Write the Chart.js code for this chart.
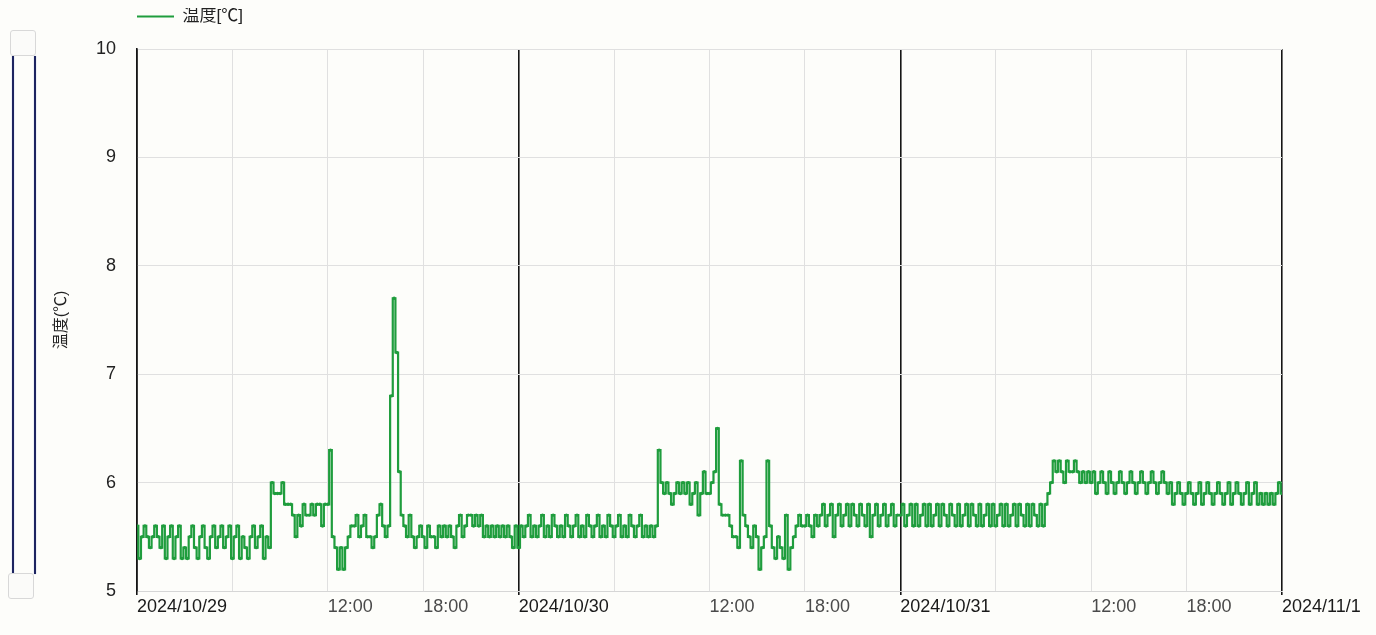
<!DOCTYPE html>
<html lang="ja">
<head>
<meta charset="utf-8">
<title>温度</title>
<script src="https://cdn.jsdelivr.net/npm/chart.js@4.4.1/dist/chart.umd.min.js"></script>
<style>
    html, body { margin: 0; padding: 0; background: #fdfdfa; }
    #wrap { position: relative; width: 1376px; height: 635px; overflow: hidden; }
    #chartTemp { position: absolute; left: 0; top: 0; }
    /* ascenseur vertical à gauche */
    .rail   { position: absolute; top: 56px; height: 518px; width: 2px; background: #1d2460; box-shadow: 0 0 1px #5a78c8; }
    .handle { position: absolute; width: 24px; height: 24px; border: 1px solid #d8d8d8; border-radius: 3px; background: #fbfbf9; }
</style>
</head>
<body>
<div id="wrap">
    <canvas id="chartTemp" width="1376" height="635"></canvas>
    <div class="rail" style="left:12px"></div>
    <div class="rail" style="left:34px"></div>
    <div class="handle" style="left:10px; top:30px"></div>
    <div class="handle" style="left:8px; top:573px"></div>
</div>
<script>
'use strict';

var DATE_LABELS = ['2024/10/29', '2024/10/30', '2024/10/31', '2024/11/1'];
var SERIES_LABEL = '温度[℃]';
var AXIS_TITLE   = '温度(℃)';
var SAMPLE_MIN   = 10;   // une mesure toutes les 10 min

// 2024/10/29 00:00 - 23:50 (6 mesures par heure)
var DAY1 = [
    5.6, 5.3, 5.5, 5.6, 5.5, 5.4,  // 00
    5.5, 5.6, 5.5, 5.4, 5.6, 5.3,  // 01
    5.5, 5.6, 5.3, 5.5, 5.6, 5.3,  // 02
    5.4, 5.3, 5.5, 5.6, 5.4, 5.3,  // 03
    5.5, 5.6, 5.4, 5.3, 5.5, 5.6,  // 04
    5.4, 5.5, 5.6, 5.4, 5.5, 5.6,  // 05
    5.3, 5.5, 5.6, 5.3, 5.5, 5.4,  // 06
    5.3, 5.5, 5.6, 5.4, 5.5, 5.6,  // 07
    5.3, 5.5, 5.4, 6.0, 5.9, 5.9,  // 08
    5.9, 6.0, 5.8, 5.8, 5.8, 5.7,  // 09
    5.5, 5.7, 5.6, 5.8, 5.7, 5.7,  // 10
    5.8, 5.7, 5.8, 5.8, 5.6, 5.8,  // 11
    5.8, 6.3, 5.5, 5.4, 5.2, 5.4,  // 12
    5.2, 5.4, 5.5, 5.6, 5.6, 5.7,  // 13
    5.5, 5.6, 5.7, 5.5, 5.5, 5.4,  // 14
    5.5, 5.7, 5.8, 5.6, 5.5, 5.6,  // 15
    6.8, 7.7, 7.2, 6.1, 5.7, 5.6,  // 16
    5.5, 5.7, 5.5, 5.4, 5.5, 5.6,  // 17
    5.5, 5.4, 5.6, 5.5, 5.5, 5.4,  // 18
    5.6, 5.5, 5.6, 5.5, 5.6, 5.5,  // 19
    5.4, 5.6, 5.7, 5.5, 5.6, 5.7,  // 20
    5.7, 5.6, 5.7, 5.6, 5.7, 5.5,  // 21
    5.6, 5.5, 5.6, 5.5, 5.6, 5.5,  // 22
    5.6, 5.5, 5.6, 5.5, 5.4, 5.6   // 23
];

// 2024/10/30
var DAY2 = [
    5.4, 5.6, 5.5, 5.6, 5.7, 5.5,  // 00
    5.6, 5.5, 5.6, 5.7, 5.5, 5.6,  // 01
    5.5, 5.7, 5.6, 5.5, 5.6, 5.5,  // 02
    5.7, 5.6, 5.5, 5.6, 5.7, 5.5,  // 03
    5.6, 5.5, 5.7, 5.6, 5.5, 5.6,  // 04
    5.7, 5.5, 5.6, 5.5, 5.7, 5.6,  // 05
    5.5, 5.6, 5.7, 5.5, 5.6, 5.5,  // 06
    5.7, 5.6, 5.5, 5.6, 5.7, 5.5,  // 07
    5.6, 5.5, 5.6, 5.5, 5.6, 6.3,  // 08
    6.0, 5.9, 6.0, 5.9, 5.8, 5.9,  // 09
    6.0, 5.9, 6.0, 5.9, 6.0, 5.8,  // 10
    5.9, 6.0, 5.7, 5.9, 6.1, 5.9,  // 11
    5.9, 6.0, 6.1, 6.5, 5.8, 5.7,  // 12
    5.7, 5.7, 5.6, 5.5, 5.5, 5.4,  // 13
    6.2, 5.7, 5.6, 5.5, 5.4, 5.6,  // 14
    5.5, 5.2, 5.4, 5.5, 6.2, 5.6,  // 15
    5.4, 5.3, 5.5, 5.4, 5.3, 5.7,  // 16
    5.2, 5.4, 5.5, 5.6, 5.7, 5.6,  // 17
    5.6, 5.7, 5.6, 5.5, 5.7, 5.6,  // 18
    5.7, 5.8, 5.6, 5.7, 5.8, 5.5,  // 19
    5.7, 5.8, 5.6, 5.7, 5.8, 5.6,  // 20
    5.8, 5.7, 5.6, 5.8, 5.7, 5.6,  // 21
    5.8, 5.5, 5.7, 5.8, 5.6, 5.7,  // 22
    5.8, 5.6, 5.7, 5.8, 5.6, 5.7   // 23
];

// 2024/10/31 + dernière mesure 2024/11/1 00:00
var DAY3 = [
    5.7, 5.8, 5.6, 5.7, 5.8, 5.6,  // 00
    5.8, 5.6, 5.7, 5.8, 5.6, 5.8,  // 01
    5.6, 5.7, 5.8, 5.6, 5.8, 5.7,  // 02
    5.6, 5.8, 5.7, 5.6, 5.8, 5.6,  // 03
    5.7, 5.8, 5.6, 5.8, 5.7, 5.6,  // 04
    5.8, 5.6, 5.7, 5.8, 5.6, 5.8,  // 05
    5.6, 5.7, 5.8, 5.6, 5.8, 5.6,  // 06
    5.7, 5.8, 5.6, 5.8, 5.7, 5.6,  // 07
    5.8, 5.6, 5.8, 5.7, 5.6, 5.8,  // 08
    5.6, 5.8, 5.9, 6.0, 6.2, 6.1,  // 09
    6.2, 6.1, 6.0, 6.2, 6.1, 6.1,  // 10
    6.2, 6.1, 6.0, 6.1, 6.0, 6.1,  // 11
    6.0, 6.1, 5.9, 6.0, 6.1, 6.0,  // 12
    5.9, 6.1, 6.0, 5.9, 6.0, 6.1,  // 13
    6.0, 5.9, 6.0, 6.1, 6.0, 5.9,  // 14
    6.0, 6.1, 6.0, 5.9, 6.0, 6.1,  // 15
    6.0, 5.9, 6.0, 6.1, 6.0, 5.9,  // 16
    6.0, 5.8, 5.9, 6.0, 5.9, 5.8,  // 17
    5.9, 6.0, 5.9, 5.8, 5.9, 6.0,  // 18
    5.8, 5.9, 6.0, 5.9, 5.8, 5.9,  // 19
    6.0, 5.9, 5.8, 5.9, 6.0, 5.8,  // 20
    5.9, 6.0, 5.9, 5.8, 5.9, 6.0,  // 21
    5.8, 5.9, 6.0, 5.8, 5.9, 5.8,  // 22
    5.9, 5.8, 5.9, 5.8, 5.9, 6.0,  // 23
    5.9                            // 11/1 00:00
];

var GREEN = '#1f9d3d';
var FONT  = "'Liberation Sans', Arial, 'Noto Sans CJK JP', sans-serif";

var temps  = DAY1.concat(DAY2, DAY3);
var points = temps.map(function (v, i) { return { x: i * SAMPLE_MIN / 60, y: v }; });

function isMidnight(ctx) {
    return ctx.tick && ctx.tick.value % 24 === 0;
}

/* Espace supplémentaire sous la légende */
var legendSpacing = {
    id: 'legendSpacing',
    beforeInit: function (chart) {
        var fit = chart.legend.fit;
        chart.legend.fit = function () {
            fit.bind(chart.legend)();
            this.height += 14;
        };
    }
};

new Chart(document.getElementById('chartTemp'), {
    type: 'line',
    data: {
        datasets: [{
            label:                SERIES_LABEL,
            data:                 points,
            borderColor:          GREEN,
            backgroundColor:      GREEN,
            borderWidth:          2.2,
            stepped:              'middle',
            pointRadius:          1.7,
            pointBorderWidth:     0,
            pointBackgroundColor: GREEN,
            fill:                 false
        }]
    },
    options: {
        responsive: false,
        animation:  false,
        layout: { padding: { top: 8, right: 94, bottom: 0, left: 0 } },
        plugins: {
            legend: {
                position: 'top',
                align:    'start',
                fullSize: false,
                labels: {
                    boxWidth:  37,
                    boxHeight: 2,
                    padding:   0,
                    color:     '#222',
                    font:      { size: 17, family: FONT },
                    generateLabels: function (chart) {
                        var items = Chart.defaults.plugins.legend.labels.generateLabels(chart);
                        items.forEach(function (it) { it.lineWidth = 0; });
                        return items;
                    }
                }
            },
            tooltip: { enabled: false }
        },
        scales: {
            x: {
                type: 'linear',
                min:  0,
                max:  72,
                afterFit: function (scale) { scale.height = 44; },
                ticks: {
                    stepSize:    6,
                    autoSkip:    false,
                    maxRotation: 0,
                    align:       'start',
                    padding:     1,
                    font:        { size: 18, family: FONT },
                    color: function (ctx) { return isMidnight(ctx) ? '#1a1a1a' : '#4a4a4a'; },
                    callback: function (v) {
                        var h = v % 24;
                        if (h === 0) return DATE_LABELS[v / 24];
                        if (h === 6) return '';
                        return (h < 10 ? '0' : '') + h + ':00';
                    }
                },
                grid: {
                    tickLength: 4,
                    tickColor: function (ctx) { return isMidnight(ctx) ? '#151515' : 'rgba(0,0,0,0)'; },
                    color:     function (ctx) { return isMidnight(ctx) ? '#151515' : '#e0e0e0'; },
                    lineWidth: function (ctx) { return isMidnight(ctx) ? 1.6 : 1; }
                },
                border: { color: '#d6d6d6' }
            },
            y: {
                min: 5,
                max: 10,
                afterFit: function (scale) { scale.width = 137; },
                ticks: {
                    stepSize: 1,
                    padding:  21,
                    color:    '#222',
                    font:     { size: 18, family: FONT }
                },
                grid:   { drawTicks: false, color: '#e0e0e0' },
                border: { color: '#151515', width: 1.6 },
                title: {
                    display: true,
                    text:    AXIS_TITLE,
                    color:   '#222',
                    font:    { size: 16, family: FONT },
                    padding: { top: 52 }
                }
            }
        }
    },
    plugins: [legendSpacing]
});
</script>
</body>
</html>
